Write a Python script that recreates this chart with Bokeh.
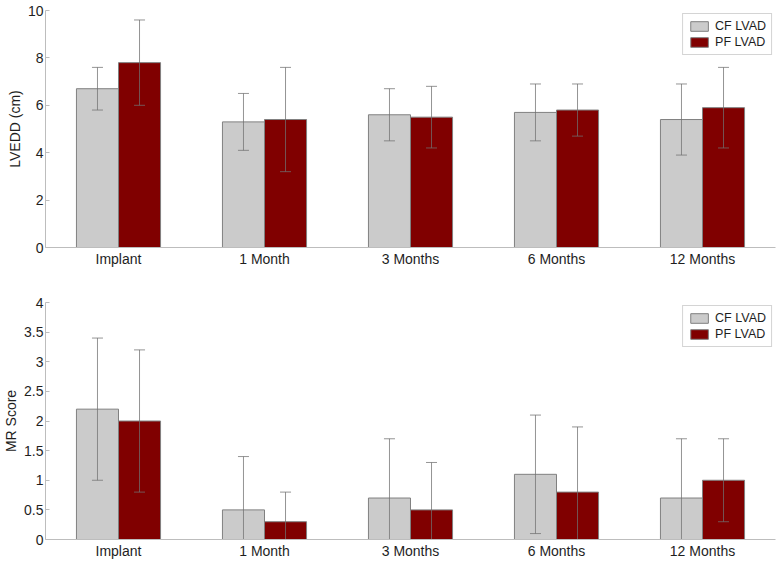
from bokeh.plotting import figure
from bokeh.models import FactorRange, Range1d, FixedTicker, ColumnDataSource, Legend, LegendItem
from bokeh.transform import dodge
from bokeh.layouts import column
from bokeh.embed import file_html
from bokeh.resources import INLINE
import numpy as np

categories = ["Implant", "1 Month", "3 Months", "6 Months", "12 Months"]
series_names = ["CF LVAD", "PF LVAD"]

lvedd_cf = [6.7, 5.3, 5.6, 5.7, 5.4]
lvedd_cf_sd = [0.9, 1.2, 1.1, 1.2, 1.5]
lvedd_pf = [7.8, 5.4, 5.5, 5.8, 5.9]
lvedd_pf_sd = [1.8, 2.2, 1.3, 1.1, 1.7]

mr_cf = [2.2, 0.5, 0.7, 1.1, 0.7]
mr_cf_sd = [1.2, 0.9, 1.0, 1.0, 1.0]
mr_pf = [2.0, 0.3, 0.5, 0.8, 1.0]
mr_pf_sd = [1.2, 0.5, 0.8, 1.1, 0.7]

lvedd_ticks = [0, 2, 4, 6, 8, 10]
mr_ticks = [0, 0.5, 1, 1.5, 2, 2.5, 3, 3.5, 4]

FONT = "Liberation Sans"
CF_FILL = "#cbcbcb"
PF_FILL = "#800000"
BAR_LINE = "#808080"
ERR_COLOR = "#707070"
AXIS_COLOR = "#bdbdbd"
TEXT = "#1e1e1e"
BAR_W = 0.288
OFF = 0.144


def make_panel(cf, cf_sd, pf, pf_sd, ticks, ylabel, height, btop, bbottom):
    cf = np.array(cf, float); cf_sd = np.array(cf_sd, float)
    pf = np.array(pf, float); pf_sd = np.array(pf_sd, float)
    src = ColumnDataSource(dict(
        cat=categories,
        cf=cf, cf_hi=cf + cf_sd, cf_lo=cf - cf_sd,
        pf=pf, pf_hi=pf + pf_sd, pf_lo=pf - pf_sd,
    ))
    p = figure(x_range=FactorRange(factors=categories, range_padding=0),
               y_range=Range1d(ticks[0], ticks[-1]),
               width=779, height=height, output_backend="svg",
               toolbar_location=None, min_border_left=45, min_border_right=4,
               min_border_top=btop, min_border_bottom=bbottom)
    p.outline_line_color = None
    p.xgrid.visible = False
    p.ygrid.visible = False

    xcf = dodge("cat", -OFF, range=p.x_range)
    xpf = dodge("cat", OFF, range=p.x_range)
    r_cf = p.vbar(x=xcf, top="cf", width=BAR_W, source=src,
                  fill_color=CF_FILL, line_color=BAR_LINE, line_width=1)
    r_pf = p.vbar(x=xpf, top="pf", width=BAR_W, source=src,
                  fill_color=PF_FILL, line_color=BAR_LINE, line_width=1)

    for xx, hi, lo in ((xcf, "cf_hi", "cf_lo"), (xpf, "pf_hi", "pf_lo")):
        p.segment(x0=xx, y0=lo, x1=xx, y1=hi, source=src,
                  line_color=ERR_COLOR, line_alpha=0.75, line_width=1)
        p.scatter(x=xx, y=hi, marker="dash", size=11, source=src,
                  line_color=ERR_COLOR, line_alpha=0.75, line_width=1)
        p.scatter(x=xx, y=lo, marker="dash", size=11, source=src,
                  line_color=ERR_COLOR, line_alpha=0.75, line_width=1)

    ax = p.xaxis[0]
    ax.axis_line_color = AXIS_COLOR
    ax.major_tick_line_color = None
    ax.minor_tick_line_color = None
    ax.major_tick_in = 0
    ax.major_tick_out = 0
    ax.minor_tick_in = 0
    ax.minor_tick_out = 0
    ax.major_label_standoff = 3
    ax.major_label_text_font = FONT
    ax.major_label_text_font_size = "14px"
    ax.major_label_text_color = TEXT

    ay = p.yaxis[0]
    ay.ticker = FixedTicker(ticks=ticks)
    ay.major_label_overrides = {t: f"{t:g}" for t in ticks}
    ay.axis_line_color = AXIS_COLOR
    ay.major_tick_line_color = AXIS_COLOR
    ay.major_tick_in = 4
    ay.major_tick_out = 0
    ay.minor_tick_line_color = None
    ay.minor_tick_in = 0
    ay.minor_tick_out = 0
    ay.major_label_standoff = 2
    ay.major_label_text_font = FONT
    ay.major_label_text_font_size = "14px"
    ay.major_label_text_color = TEXT
    ay.axis_label = ylabel
    ay.axis_label_standoff = 2
    ay.axis_label_text_font = FONT
    ay.axis_label_text_font_size = "14px"
    ay.axis_label_text_font_style = "normal"
    ay.axis_label_text_color = TEXT

    legend = Legend(items=[LegendItem(label=series_names[0], renderers=[r_cf]),
                           LegendItem(label=series_names[1], renderers=[r_pf])],
                    location="top_right")
    legend.margin = 3
    legend.padding = 5
    legend.spacing = 2
    legend.glyph_width = 22
    legend.glyph_height = 12
    legend.label_standoff = 5
    legend.label_height = 12
    legend.label_text_font = FONT
    legend.label_text_font_size = "12.5px"
    legend.label_text_color = TEXT
    legend.border_line_color = "#aaaaaa"
    legend.border_line_width = 1
    legend.background_fill_color = "white"
    legend.background_fill_alpha = 1
    p.add_layout(legend)
    return p


p1 = make_panel(lvedd_cf, lvedd_cf_sd, lvedd_pf, lvedd_pf_sd, lvedd_ticks,
                "LVEDD (cm)", 272, 10, 25)
p2 = make_panel(mr_cf, mr_cf_sd, mr_pf, mr_pf_sd, mr_ticks,
                "MR Score", 290, 30, 23)

layout = column(p1, p2, spacing=0)
open("out.html", "w").write(file_html(layout, INLINE))
